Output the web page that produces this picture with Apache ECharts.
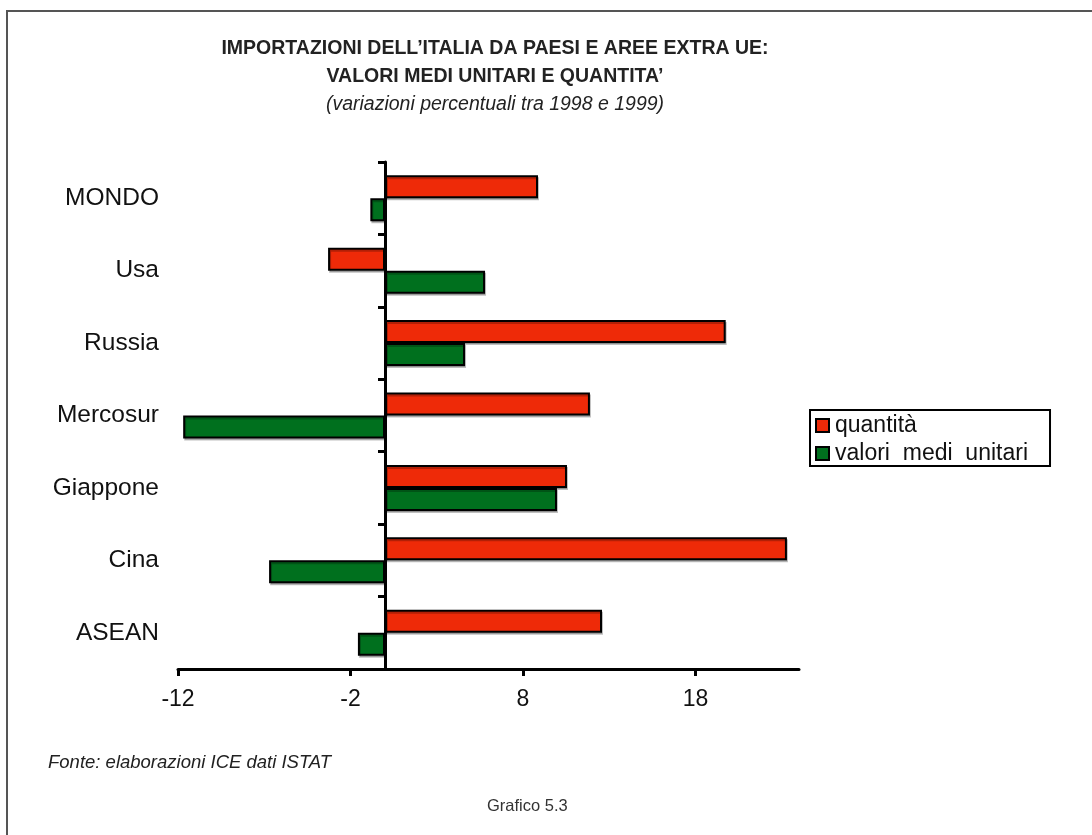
<!DOCTYPE html>
<html>
<head>
<meta charset="utf-8">
<script src="https://cdn.jsdelivr.net/npm/echarts@6/dist/echarts.min.js"></script>
<style>
html,body{margin:0;padding:0;background:#fff;}
#chart{width:1092px;height:835px;}
</style>
</head>
<body>
<div id="chart"></div>
<script>
// ---- data ----
const categories = ['MONDO', 'Usa', 'Russia', 'Mercosur', 'Giappone', 'Cina', 'ASEAN'];
const quantita = [8.87, -3.3, 19.75, 11.88, 10.55, 23.3, 12.58];
const valoriMedi = [-0.85, 5.8, 4.64, -11.7, 9.97, -6.72, -1.57];
const seriesNames = ['quantità', 'valori medi unitari'];
const xTickValues = [-12, -2, 8, 18];

const FONT = 'Liberation Sans, Arial, sans-serif';
const chart = echarts.init(document.getElementById('chart'), null, {renderer: 'canvas'});

const barStyle = (color) => ({
  color: color,
  borderColor: '#000',
  borderWidth: 2,
  shadowColor: 'rgba(0,0,0,0.25)',
  shadowOffsetX: 1,
  shadowOffsetY: 2,
  shadowBlur: 0
});

chart.setOption({
  backgroundColor: '#fff',
  animation: false,
  title: {
    text: 'IMPORTAZIONI DELL’ITALIA DA PAESI E AREE EXTRA UE:\nVALORI MEDI UNITARI E QUANTITA’',
    subtext: '(variazioni percentuali tra 1998 e 1999)',
    left: 490,
    top: 30,
    textAlign: 'center',
    itemGap: 4,
    textStyle: {fontFamily: FONT, fontWeight: 'bold', fontSize: 19.5, color: '#222', lineHeight: 28},
    subtextStyle: {fontFamily: FONT, fontStyle: 'italic', fontSize: 19.5, color: '#222'}
  },
  legend: {
    orient: 'vertical',
    left: 810,
    top: 410,
    data: seriesNames,
    icon: 'rect',
    itemWidth: 13,
    itemHeight: 13,
    itemGap: 5,
    borderColor: '#000',
    borderWidth: 2,
    borderRadius: 0,
    padding: [4, 22, 1, 5],
    formatter: (n) => n.replace(/ /g, '  '),
    textStyle: {fontFamily: FONT, fontSize: 23, color: '#111', padding: [0, 0, 0, 1]}
  },
  grid: {left: 178, right: 293, top: 162, bottom: 166, containLabel: false},
  xAxis: {
    type: 'value',
    min: -12,
    max: 24,
    splitLine: {show: false},
    axisLine: {show: true, onZero: false, lineStyle: {color: '#000', width: 3}},
    axisTick: {show: true, length: 7, customValues: xTickValues, lineStyle: {color: '#000', width: 3}},
    axisLabel: {customValues: xTickValues, margin: 19, fontFamily: FONT, fontSize: 23, color: '#111'}
  },
  yAxis: [
    {
      type: 'category',
      inverse: true,
      data: categories,
      position: 'left',
      axisLine: {show: false, onZero: false},
      axisTick: {show: false},
      axisLabel: {margin: 19, fontFamily: FONT, fontSize: 24.5, color: '#111'}
    },
    {
      type: 'category',
      inverse: true,
      data: categories,
      position: 'left',
      axisLine: {show: true, onZero: true, lineStyle: {color: '#000', width: 3}},
      axisTick: {show: true, length: 7, lineStyle: {color: '#000', width: 3}},
      axisLabel: {show: false}
    }
  ],
  series: [
    {
      name: seriesNames[0],
      type: 'bar',
      yAxisIndex: 0,
      data: quantita,
      barWidth: 23,
      barGap: '0%',
      itemStyle: barStyle('#EE2A08')
    },
    {
      name: seriesNames[1],
      type: 'bar',
      yAxisIndex: 0,
      data: valoriMedi,
      barWidth: 23,
      barGap: '0%',
      itemStyle: barStyle('#00701E')
    }
  ],
  graphic: [
    {
      type: 'rect',
      shape: {x: 7, y: 11, width: 1200, height: 1000},
      style: {fill: 'none', stroke: '#555', lineWidth: 2},
      silent: true
    },
    {
      type: 'text',
      left: 48,
      top: 753,
      style: {text: 'Fonte: elaborazioni ICE dati ISTAT', font: 'italic 18.5px ' + FONT, fill: '#222'}
    },
    {
      type: 'text',
      left: 487,
      top: 798,
      style: {text: 'Grafico 5.3', font: '16.5px ' + FONT, fill: '#333'}
    }
  ]
});
</script>
</body>
</html>
